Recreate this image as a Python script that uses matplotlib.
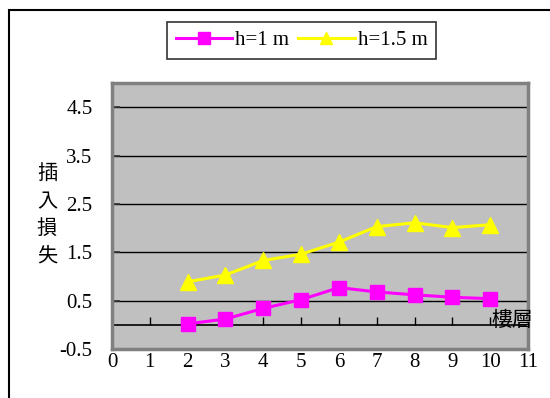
import matplotlib
matplotlib.use('Agg')
import matplotlib.pyplot as plt
from matplotlib.patches import Rectangle

# -----------------------------
# Data
# -----------------------------
floors = [2, 3, 4, 5, 6, 7, 8, 9, 10]
loss_h1 = [0.02, 0.12, 0.34, 0.52, 0.77, 0.68, 0.62, 0.57, 0.54]
loss_h15 = [0.89, 1.03, 1.33, 1.46, 1.71, 2.03, 2.11, 2.01, 2.07]
series_labels = ['h=1 m', 'h=1.5 m']
x_ticks = list(range(0, 12))
y_ticks = [-0.5, 0.5, 1.5, 2.5, 3.5, 4.5]
y_label = '插入損失'
x_label = '樓層'

FONT = ['Liberation Serif', 'Noto Sans CJK TC']
plt.rcParams['font.family'] = FONT

W, H = 550, 398
fig = plt.figure(figsize=(W / 100, H / 100), dpi=100)

# outer chart border (runs off the right/bottom of the image)
fig.patches.append(Rectangle((9 / W, -0.2), 1.2, 1 - 10 / H + 0.2,
                             transform=fig.transFigure, fill=False,
                             edgecolor='black', lw=1.5))

# plot area: x 112..528 px, y 83..349 px
ax = fig.add_axes([112 / W, (H - 349) / H, 416 / W, 266 / H])
ax.set_facecolor('#C0C0C0')
for s in ax.spines.values():
    s.set_color('#808080')
    s.set_linewidth(2.5)

ax.set_xlim(0, 11)
ax.set_ylim(-0.5, 5.0)
ax.set_yticks(y_ticks)
ax.set_yticklabels([f'{v:g}' for v in y_ticks])
ax.set_xticks(x_ticks)
ax.tick_params(axis='y', direction='in', length=6, width=1.2, color='#333333',
               pad=14, labelsize=15)
ax.tick_params(axis='x', length=0, pad=3, labelsize=15)
ax.grid(axis='y', color='black', lw=1)
ax.set_axisbelow(True)

# horizontal category axis crossing at y=0
sec = ax.secondary_xaxis(0.5 / 5.5)
sec.set_xticks(x_ticks)
sec.tick_params(axis='x', direction='in', length=6, width=1, labelbottom=False)
sec.spines['bottom'].set_linewidth(1.2)
sec.spines['bottom'].set_color('black')

ax.plot(floors, loss_h1, color='#FF00FF', lw=2.2, marker='s', markersize=10,
        markerfacecolor='#FF00FF', markeredgecolor='#FF00FF',
        label=series_labels[0], zorder=3)
ax.plot(floors, loss_h15, color='#FFFF00', lw=2.2, marker='^', markersize=11,
        markerfacecolor='#FFFF00', markeredgecolor='#FFFF00',
        label=series_labels[1], zorder=3)

ax.text((533 - 112) / 416, 0.58 / 5.5, x_label, transform=ax.transAxes,
        ha='right', va='center', fontsize=15, family=FONT, clip_on=False,
        zorder=5)

fig.text(47 / W, 1 - 216 / H, '\n'.join(y_label), ha='center', va='center',
         fontsize=14.5, linespacing=1.6, family=FONT)

leg = fig.legend(loc='upper center', bbox_to_anchor=(301.5 / W, 1 - 22 / H),
                 ncol=2, fontsize=15, frameon=True, fancybox=False,
                 edgecolor='black', handlelength=2.7, handletextpad=0.15,
                 columnspacing=0.45, borderpad=0.42, borderaxespad=0,
                 markerscale=0.8)
leg.get_frame().set_linewidth(1.2)

fig.savefig('out.png', dpi=100)
